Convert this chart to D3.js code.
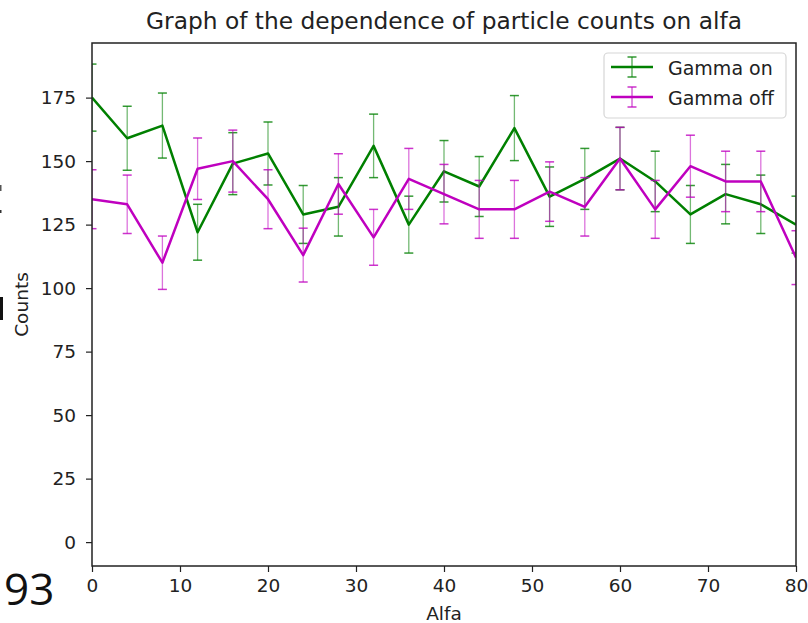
<!DOCTYPE html>
<html>
<head>
<meta charset="utf-8">
<script src="https://cdn.jsdelivr.net/npm/d3@7/dist/d3.min.js"></script>
<style>
html,body{margin:0;padding:0;background:#fff;}
svg{display:block;font-family:"DejaVu Sans",sans-serif;}
</style>
</head>
<body>
<svg id="c" width="808" height="623"></svg>
<script>
const alfa = [0,4,8,12,16,20,24,28,32,36,40,44,48,52,56,60,64,68,72,76,80];
const gammaOn  = [175,159,164,122,149,153,129,132,156,125,146,140,163,136,143,151,142,129,137,133,125];
const gammaOnErr  = [13.2,12.6,12.8,11.0,12.2,12.4,11.4,11.5,12.5,11.2,12.1,11.8,12.8,11.7,12.0,12.3,11.9,11.4,11.7,11.5,11.2];
const gammaOff = [135,133,110,147,150,135,113,141,120,143,137,131,131,138,132,151,131,148,142,142,112];
const gammaOffErr = [11.6,11.5,10.5,12.1,12.2,11.6,10.6,11.9,11.0,12.0,11.7,11.4,11.4,11.7,11.5,12.3,11.4,12.2,11.9,11.9,10.6];
const xTicks = [0,10,20,30,40,50,60,70,80];
const yTicks = [0,25,50,75,100,125,150,175];
const seriesNames = ["Gamma on","Gamma off"];
const seriesColors = ["#008000","#bf00bf"];

const svg = d3.select("#c");
const L=92,R=796,T=43,B=566;
const x = d3.scaleLinear().domain([0,80]).range([L,R]);
const y = d3.scaleLinear().domain([-9.4,196.5]).range([B,T]);

// stray background fragments
svg.append("text").attr("x",4).attr("y",605).attr("font-size",44).attr("font-family","'Open Sans',sans-serif").attr("fill","#111").text("93");
svg.append("rect").attr("x",0).attr("y",297).attr("width",3).attr("height",23).attr("fill","#111");
svg.append("rect").attr("x",0).attr("y",185).attr("width",1.5).attr("height",6).attr("fill","#555");
svg.append("rect").attr("x",0).attr("y",210).attr("width",1.5).attr("height",3).attr("fill","#333");

svg.append("defs").append("clipPath").attr("id","pc").append("rect")
  .attr("x",L).attr("y",T).attr("width",R-L).attr("height",B-T);
const plot = svg.append("g").attr("clip-path","url(#pc)");

const data = [
  {name:seriesNames[0], color:seriesColors[0], v:gammaOn, e:gammaOnErr},
  {name:seriesNames[1], color:seriesColors[1], v:gammaOff, e:gammaOffErr}
];
const cap = 4.5;
data.forEach(s=>{
  const g = plot.append("g");
  const pts = alfa.map((a,i)=>({a, v:s.v[i], e:s.e[i]}));
  g.selectAll("line.eb").data(pts).enter().append("line")
    .attr("x1",d=>x(d.a)).attr("x2",d=>x(d.a))
    .attr("y1",d=>y(d.v-d.e)).attr("y2",d=>y(d.v+d.e))
    .attr("stroke",s.color).attr("stroke-width",1.3).attr("stroke-opacity",0.55);
  ["lo","hi"].forEach(k=>{
    g.selectAll("line.c"+k).data(pts).enter().append("line")
      .attr("x1",d=>x(d.a)-cap).attr("x2",d=>x(d.a)+cap)
      .attr("y1",d=>y(k==="lo"?d.v-d.e:d.v+d.e)).attr("y2",d=>y(k==="lo"?d.v-d.e:d.v+d.e))
      .attr("stroke",s.color).attr("stroke-width",1.5).attr("stroke-opacity",0.8);
  });
  g.append("path").datum(pts)
    .attr("d",d3.line().x(d=>x(d.a)).y(d=>y(d.v)))
    .attr("fill","none").attr("stroke",s.color).attr("stroke-width",2.5).attr("stroke-linejoin","round");
});

// axes
const xa = svg.append("g").attr("transform",`translate(0,${B})`)
  .call(d3.axisBottom(x).tickValues(xTicks).tickFormat(d3.format("d")).tickSize(6).tickPadding(7));
const ya = svg.append("g").attr("transform",`translate(${L},0)`)
  .call(d3.axisLeft(y).tickValues(yTicks).tickFormat(d3.format("d")).tickSize(6).tickPadding(10));
[xa,ya].forEach(a=>{
  a.select(".domain").remove();
  a.selectAll("line").attr("stroke","#222").attr("stroke-width",1.2);
  a.selectAll("text").attr("font-size",18.5).attr("font-family","DejaVu Sans").attr("fill","#222");
});
svg.append("rect").attr("x",L).attr("y",T).attr("width",R-L).attr("height",B-T)
  .attr("fill","none").attr("stroke","#222").attr("stroke-width",1.5);

svg.append("text").attr("x",(L+R)/2).attr("y",29).attr("text-anchor","middle")
  .attr("font-size",23.3).attr("fill","#222").text("Graph of the dependence of particle counts on alfa");
svg.append("text").attr("x",(L+R)/2).attr("y",620).attr("text-anchor","middle")
  .attr("font-size",18.5).attr("fill","#222").text("Alfa");
svg.append("text").attr("transform",`translate(28,${(T+B)/2}) rotate(-90)`).attr("text-anchor","middle")
  .attr("font-size",18.5).attr("fill","#222").text("Counts");

// legend
const lg = svg.append("g");
lg.append("rect").attr("x",604).attr("y",53).attr("width",182).attr("height",65).attr("rx",4)
  .attr("fill","#fff").attr("fill-opacity",0.8).attr("stroke","#d6d6d6").attr("stroke-width",1.2);
data.forEach((s,i)=>{
  const cy = 67 + i*30;
  lg.append("line").attr("x1",611).attr("x2",653).attr("y1",cy).attr("y2",cy)
    .attr("stroke",s.color).attr("stroke-width",2.5);
  lg.append("line").attr("x1",632).attr("x2",632).attr("y1",cy-10).attr("y2",cy+10)
    .attr("stroke",s.color).attr("stroke-width",1.3).attr("stroke-opacity",0.7);
  [cy-10,cy+10].forEach(yy=>lg.append("line").attr("x1",632-cap).attr("x2",632+cap).attr("y1",yy).attr("y2",yy)
    .attr("stroke",s.color).attr("stroke-width",1.5).attr("stroke-opacity",0.8));
  lg.append("text").attr("x",668).attr("y",cy+8).attr("font-size",19).attr("fill","#222").text(s.name);
});
</script>
</body>
</html>
